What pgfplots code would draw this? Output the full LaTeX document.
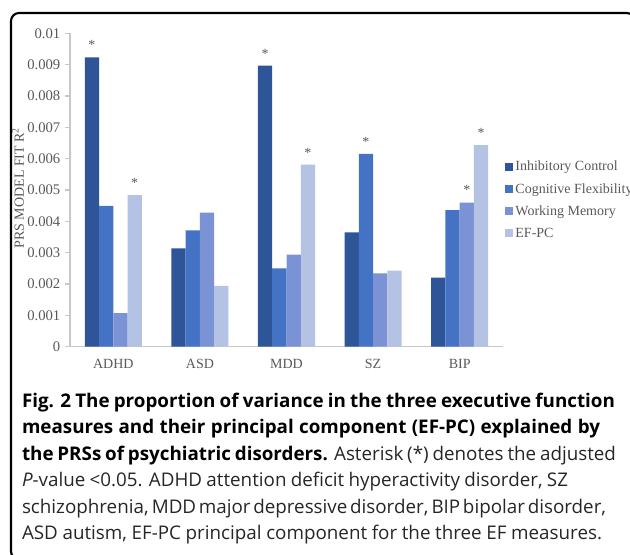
\documentclass[border=0pt]{standalone}
\usepackage{fontspec}
\setmainfont{Liberation Serif}
\newfontfamily\capfont{Open Sans}
\usepackage{pgfplots}
\pgfplotsset{compat=1.18}
\definecolor{icC}{HTML}{2E5597}
\definecolor{cfC}{HTML}{4472C4}
\definecolor{wmC}{HTML}{7B93D4}
\definecolor{efC}{HTML}{B4C2E4}
\definecolor{txtgray}{HTML}{595959}
\definecolor{axgray}{HTML}{C8C8C8}
\newcommand{\capline}[2]{\makebox[#1][s]{\spaceskip=0.26em plus 1em minus 0.16em #2}}
\begin{document}
\begin{tikzpicture}
\path[use as bounding box, clip] (0,0) rectangle (472.5pt,415.5pt);
\begin{axis}[
  at={(52.5pt,155.5pt)}, anchor=south west,
  scale only axis, width=324.75pt, height=235pt,
  ybar=0pt, bar width=10.7pt,
  xmin=-0.5, xmax=4.5, ymin=0, ymax=0.01,
  xtick={0,1,2,3,4}, xticklabels={ADHD,ASD,MDD,SZ,BIP},
  x tick style={draw=none},
  ytick={0,0.001,0.002,0.003,0.004,0.005,0.006,0.007,0.008,0.009,0.01},
  scaled y ticks=false,
  /pgf/number format/assume math mode=true,
  yticklabel style={/pgf/number format/.cd, fixed, precision=3, /tikz/.cd,
     font=\fontsize{11}{13}\selectfont, text=txtgray},
  xticklabel style={font=\fontsize{10.5}{12}\selectfont, text=txtgray, anchor=base, yshift=-12.3pt},
  axis x line*=bottom, axis y line*=left,
  axis line style={draw=axgray, line width=0.8pt},
  y tick style={draw=axgray, line width=0.8pt},
  tick align=outside, major tick length=3.75pt,
  nodes near coords, point meta=explicit symbolic,
  every node near coord/.append style={font=\fontsize{10.5}{12}\selectfont, text=txtgray, anchor=south, inner sep=0pt, yshift=5.5pt},
  legend style={at={(1.005,0.599)}, anchor=north west, draw=none, fill=none,
     font=\fontsize{10.5}{12}\selectfont, text=txtgray, row sep=4.9pt, inner sep=0pt,
     nodes={inner sep=1.5pt}},
  legend cell align=left,
  legend image code/.code={\path[#1] (0pt,-2.8pt) rectangle (6pt,3.2pt);},
]
\addplot[fill=icC, draw=none] coordinates {(0,0.00923) [*] (1,0.00314) [] (2,0.00897) [*] (3,0.00365) [] (4,0.00220) []};
\addplot[fill=cfC, draw=none] coordinates {(0,0.00449) [] (1,0.00371) [] (2,0.00250) [] (3,0.00615) [*] (4,0.00436) []};
\addplot[fill=wmC, draw=none] coordinates {(0,0.00107) [] (1,0.00428) [] (2,0.00294) [] (3,0.00234) [] (4,0.00460) [*]};
\addplot[fill=efC, draw=none] coordinates {(0,0.00484) [*] (1,0.00194) [] (2,0.00581) [*] (3,0.00243) [] (4,0.00643) [*]};
\legend{Inhibitory Control, Cognitive Flexibility, Working Memory, EF-PC}
\end{axis}
\node[rotate=90, font=\fontsize{10.5}{12}\selectfont, text=txtgray] at (13.5pt,274.5pt) {PRS MODEL FIT R\textsuperscript{2}};
\draw[line width=1.6pt, rounded corners=6pt] (8.25pt,405.75pt) rectangle (476pt,-4pt);
\begin{scope}[every node/.style={anchor=base west, inner sep=0pt, font=\capfont\fontsize{14.1}{16}\selectfont}]
\node at (16.3pt,110.25pt) {\capline{444.75pt}{\bfseries Fig. 2 The proportion of variance in the three executive function}};
\node at (16.3pt,90.4pt) {\capline{433.5pt}{\bfseries measures and their principal component (EF-PC) explained by}};
\node at (16.3pt,70.5pt) {\capline{445.5pt}{\textbf{the PRSs of psychiatric disorders.} {\color{black!85}Asterisk (*) denotes the adjusted}}};
\node[text=black!85] at (16.3pt,50.6pt) {\capline{409.5pt}{\textit{P}-value <0.05. ADHD attention deficit hyperactivity disorder, SZ}};
\node[text=black!85] at (16.3pt,30.75pt) {\capline{438pt}{schizophrenia, MDD major depressive disorder, BIP bipolar disorder,}};
\node[text=black!85] at (16.3pt,10.9pt) {\capline{435pt}{ASD autism, EF-PC principal component for the three EF measures.}};
\end{scope}
\end{tikzpicture}
\end{document}
